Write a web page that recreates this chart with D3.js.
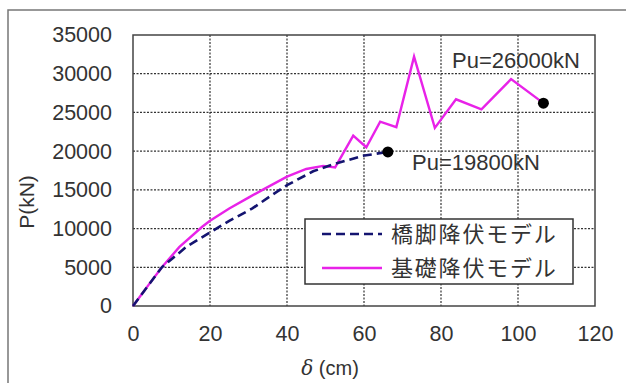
<!DOCTYPE html>
<html>
<head>
<meta charset="utf-8">
<script src="https://cdn.jsdelivr.net/npm/d3@7"></script>
<style>
  body { margin: 0; background: #fff; }
  text { font-family: "Liberation Sans", Arial, sans-serif; fill: #333; }
</style>
</head>
<body>
<script>
// 橋脚降伏モデル (dashed)
const pierData = [
  [0, 0], [7.5, 5000], [10.4, 6200], [14, 7700], [20, 9500], [25, 11000],
  [31, 12600], [36, 14300], [40, 15600], [46.8, 17400], [52, 18300],
  [59.7, 19400], [66.2, 19900],
];
// 基礎降伏モデル (solid)
const foundData = [
  [0, 0], [4, 2700], [7.5, 5000], [12, 7600], [17.9, 10200], [20, 11000],
  [25, 12600], [30, 14000], [34, 15100], [40, 16700], [45, 17700],
  [49.4, 18100], [52.5, 17900], [57.2, 22000], [60.6, 20500], [64.2, 23800],
  [68.4, 23100], [73, 32200], [78.4, 23000], [83.9, 26700], [90.5, 25400],
  [98.2, 29300], [106.6, 26200],
];
const endPoints = [
  [66.2, 19900, "Pu=19800kN"],
  [106.6, 26200, "Pu=26000kN"],
];
const xTicks = [0, 20, 40, 60, 80, 100, 120];
const yTicks = [0, 5000, 10000, 15000, 20000, 25000, 30000, 35000];
const legendNames = ["橋脚降伏モデル", "基礎降伏モデル"];

const w = 626;
const h = 383;
const pLeft = 133, pRight = 595, pTop = 35, pBottom = 306;

const x = d3.scaleLinear().domain([0, 120]).range([pLeft, pRight]);
const y = d3.scaleLinear().domain([0, 35000]).range([pBottom, pTop]);

const svg = d3.select("body").append("svg").attr("width", w).attr("height", h);

// outer frame
svg.append("rect")
  .attr("x", 8).attr("y", 10).attr("width", 640).attr("height", 400)
  .attr("fill", "none").attr("stroke", "#777").attr("stroke-width", 1.5);

// grid
svg.append("g")
  .selectAll("line")
  .data(xTicks.slice(1, -1))
  .enter()
  .append("line")
  .attr("x1", (d) => x(d)).attr("x2", (d) => x(d))
  .attr("y1", pTop).attr("y2", pBottom)
  .attr("stroke", "#333").attr("stroke-width", 1.2).attr("stroke-dasharray", "2,1.5");

svg.append("g")
  .selectAll("line")
  .data(yTicks.slice(1, -1))
  .enter()
  .append("line")
  .attr("x1", pLeft).attr("x2", pRight)
  .attr("y1", (d) => y(d)).attr("y2", (d) => y(d))
  .attr("stroke", "#333").attr("stroke-width", 1.2).attr("stroke-dasharray", "2,1.5");

// plot border
svg.append("rect")
  .attr("x", pLeft).attr("y", pTop)
  .attr("width", pRight - pLeft).attr("height", pBottom - pTop)
  .attr("fill", "none").attr("stroke", "#444").attr("stroke-width", 1.5);

// axes
const xAxis = svg.append("g")
  .attr("transform", `translate(0,${pBottom})`)
  .call(d3.axisBottom(x).tickValues(xTicks).tickSize(0).tickPadding(20));
const yAxis = svg.append("g")
  .attr("transform", `translate(${pLeft},0)`)
  .call(d3.axisLeft(y).tickValues(yTicks).tickSize(0).tickPadding(21).tickFormat(d3.format("d")));
[xAxis, yAxis].forEach((g) => {
  g.select(".domain").remove();
  g.selectAll("text").attr("font-size", 21.5).attr("fill", "#333")
    .style("font-family", "'Liberation Sans', Arial, sans-serif");
});

// axis titles
svg.append("text")
  .attr("x", 330).attr("y", 375)
  .attr("text-anchor", "middle").attr("font-size", 20)
  .html('<tspan font-style="italic" font-family="DejaVu Serif">δ</tspan> (cm)');

svg.append("text")
  .attr("transform", "translate(34,202) rotate(-90)")
  .attr("text-anchor", "middle").attr("font-size", 21)
  .text("P(kN)");

// lines
const line = d3.line().x((d) => x(d[0])).y((d) => y(d[1]));

svg.append("path")
  .datum(foundData)
  .attr("d", line)
  .attr("fill", "none").attr("stroke", "#e822e8").attr("stroke-width", 2.4);

svg.append("path")
  .datum(pierData)
  .attr("d", line)
  .attr("fill", "none").attr("stroke", "#141470").attr("stroke-width", 2.6)
  .attr("stroke-dasharray", "9,5");

// end dots
svg.selectAll("circle")
  .data(endPoints)
  .enter()
  .append("circle")
  .attr("cx", (d) => x(d[0]))
  .attr("cy", (d) => y(d[1]))
  .attr("r", 5.5)
  .attr("fill", "#000");

// Pu labels
svg.append("text")
  .attr("x", 412).attr("y", 170).attr("font-size", 22)
  .text(endPoints[0][2]);
svg.append("text")
  .attr("x", 452).attr("y", 68).attr("font-size", 22)
  .text(endPoints[1][2]);

// legend
const lg = svg.append("g");
lg.append("rect")
  .attr("x", 305).attr("y", 219).attr("width", 268).attr("height", 65)
  .attr("fill", "#fff").attr("stroke", "#333").attr("stroke-width", 1.5);

const legendStyle = [
  { color: "#141470", dash: "9,5", width: 2.6 },
  { color: "#e822e8", dash: null, width: 2.6 },
];
legendNames.forEach((name, i) => {
  const ly = 234 + i * 34;
  lg.append("line")
    .attr("x1", 322).attr("x2", 382)
    .attr("y1", ly).attr("y2", ly)
    .attr("stroke", legendStyle[i].color)
    .attr("stroke-width", legendStyle[i].width)
    .attr("stroke-dasharray", legendStyle[i].dash);
  lg.append("text")
    .attr("x", 391).attr("y", ly + 8)
    .attr("font-size", 22)
    .attr("letter-spacing", 1.8)
    .style("font-family", "'Noto Sans CJK JP', sans-serif")
    .text(name);
});
</script>
</body>
</html>
